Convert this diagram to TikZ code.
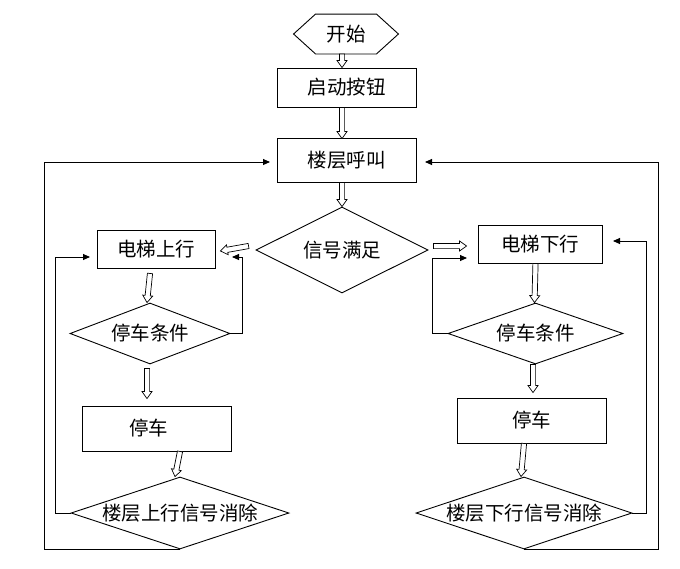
\documentclass[tikz,border=0pt]{standalone}
\usepackage{fontspec}
\newfontfamily\cjk{Noto Sans CJK SC}
\usetikzlibrary{calc,arrows.meta,shapes.geometric}
\begin{document}
\begin{tikzpicture}[x=1pt,y=-1pt,line width=0.9pt,
  font=\cjk\fontsize{19.5}{23}\selectfont,
  box/.style={draw,rectangle,inner sep=0pt},
  dia/.style={draw,diamond,inner sep=0pt},
  conn/.style={draw,-{Triangle[length=7pt,width=6pt]}},
  hollow/.style={draw,fill=white,line width=0.7pt,to path={
    let \p1=(\tikztostart), \p2=(\tikztotarget),
        \n1={atan2(\y2-\y1,\x2-\x1)}, \n2={veclen(\x2-\x1,\y2-\y1)} in
    {[shift={(\p1)},rotate=\n1]
     (0pt,-2.6pt) -- (\n2*1pt-7pt,-2.6pt) -- (\n2*1pt-7pt,-5pt) -- (\n2*1pt,0pt)
     -- (\n2*1pt-7pt,5pt) -- (\n2*1pt-7pt,2.6pt) -- (0pt,2.6pt) -- cycle}}}]
\useasboundingbox (0,0) rectangle (680,568);
\fill[white] (0,0) rectangle (680,568);

% nodes
\node (start) [rectangle,inner sep=0pt,minimum width=104pt,minimum height=39pt] at (346,34) {开始};
\draw (start.west) -- ([xshift=22pt]start.north west) -- ([xshift=-22pt]start.north east)
  -- (start.east) -- ([xshift=-22pt]start.south east) -- ([xshift=22pt]start.south west) -- cycle;
\node (btn) [box,minimum width=139pt,minimum height=39pt] at (346.5,87.5) {启动按钮};
\node (call) [box,minimum width=139pt,minimum height=44pt] at (346.5,160) {楼层呼叫};
\node (sig) [dia,minimum width=172pt,minimum height=86pt,label=center:{信号满足}] at (342,250) {};
\node (up) [box,minimum width=118pt,minimum height=38pt] at (156,249) {电梯上行};
\node (down) [box,minimum width=124pt,minimum height=38pt] at (540,244) {电梯下行};
\node (stopU) [dia,minimum width=160pt,minimum height=61pt,label=center:{停车条件}] at (150,333.5) {};
\node (stopD) [dia,minimum width=175pt,minimum height=61pt,label=center:{停车条件}] at (535.5,333.5) {};
\node (parkU) [box,minimum width=149pt,minimum height=45pt] at (156.5,428.5) {\hspace*{-16pt}停车};
\node (parkD) [box,minimum width=149pt,minimum height=45pt] at (531.5,420.5) {停车};
\node (clrU) [dia,minimum width=218pt,minimum height=72pt,label=center:{楼层上行信号消除}] at (180,513) {};
\node (clrD) [dia,minimum width=216pt,minimum height=72pt,label=center:{楼层下行信号消除}] at (524,513) {};

% hollow arrows
\draw[hollow] (start.south -| sig.north) to (btn.north -| sig.north);
\draw[hollow] (btn.south -| sig.north) to ([yshift=-1pt]call.north -| sig.north);
\draw[hollow] (call.south -| sig.north) to (sig.north);
\draw[hollow] ([xshift=-7pt,yshift=4pt]sig.west) to ([xshift=5pt,yshift=-1pt]up.east |- sig.west);
\draw[hollow] ([xshift=5pt,yshift=4pt]sig.east) to ([xshift=-11pt,yshift=4pt]down.west |- sig.east);
\draw[hollow] ([yshift=-5pt]up.south -| stopU.north) to ([xshift=-3pt]stopU.north);
\draw[hollow] (down.south -| stopD.north) to ([xshift=-1pt]stopD.north);
\draw[hollow] ([yshift=-4pt]stopU.south -| 147,0) to ([yshift=7pt]parkU.north -| 147,0);
\draw[hollow] (stopD.south -| 533,0) to ([yshift=5pt]parkD.north -| 533,0);
\draw[hollow] (parkU.south -| clrU.north) to ([xshift=-5pt]clrU.north);
\draw[hollow] (parkD.south -| clrD.north) to ([xshift=-3pt]clrD.north);

% free ends of feedback connectors
\coordinate (upInR) at (232,257);
\coordinate (upInL) at (90,257);
\coordinate (downInL) at (467,258);
\coordinate (downInR) at (613,241);
\coordinate (callInL) at (270,162);
\coordinate (callInR) at (425,162);

% feedback connectors
\draw[conn] (stopU.east) -- ++(12,0) |- (upInR);
\draw[conn] (stopD.west) -- ++(-15,0) |- (downInL);
\draw[conn] (clrU.west) -- ++(-15,0) |- (upInL);
\draw[conn] (clrD.east) -- ++(14,0) |- (downInR);
\draw[conn] (clrU.south) -- ++(-136,0) |- (callInL);
\draw[conn] (clrD.south) -- ++(134,0) |- (callInR);
\end{tikzpicture}
\end{document}
